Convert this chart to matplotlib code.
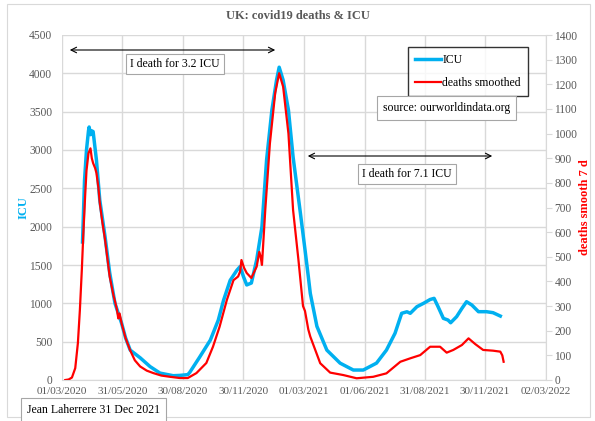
import matplotlib
matplotlib.use('Agg')
import matplotlib.pyplot as plt
import matplotlib.dates as mdates
import numpy as np
import pandas as pd
from matplotlib.patches import Rectangle

plt.rcParams['font.family'] = ['Liberation Serif', 'DejaVu Serif']

# days counted from 01/03/2020
start = pd.Timestamp('2020-03-01')

icu_day = [31, 34, 37, 40, 41, 43, 45, 47, 52, 57, 65, 72, 80, 90, 96, 103, 118, 133, 148, 168,
           178, 190, 193, 208, 224, 236, 244, 254, 264, 269, 274, 279, 286, 294, 302, 309, 317,
           324, 328, 334, 342, 349, 360, 367, 372, 375, 385, 400, 420, 440, 455, 475, 490, 503,
           513, 521, 526, 536, 546, 556, 562, 568, 576, 583, 587, 596, 604, 611, 619, 629, 641,
           651, 662]
icu = [1800, 2600, 3000, 3250, 3300, 3200, 3250, 3240, 2870, 2350, 1870, 1400, 1000, 740, 550,
       390, 290, 175, 90, 56, 60, 70, 100, 300, 520, 780, 1040, 1300, 1430, 1480, 1350, 1240,
       1265, 1565, 2000, 2870, 3520, 3910, 4080, 3910, 3520, 2910, 2180, 1700, 1350, 1130, 700,
       390, 220, 130, 130, 220, 390, 610, 870, 890, 870, 956, 1000, 1050, 1065, 956, 804, 782,
       747, 826, 934, 1021, 978, 891, 891, 878, 834]

death_day = [5, 10, 15, 20, 24, 27, 30, 32, 35, 37, 40, 43, 45, 47, 50, 52, 55, 57, 61, 65, 72,
             78, 80, 83, 85, 87, 90, 96, 103, 110, 118, 128, 138, 150, 163, 178, 190, 203, 218,
             228, 238, 249, 259, 266, 269, 271, 275, 279, 286, 294, 298, 300, 302, 307, 314, 322,
             328, 334, 342, 349, 357, 364, 367, 372, 375, 390, 405, 425, 445, 470, 490, 511, 526,
             541, 556, 571, 581, 591, 604, 614, 624, 636, 651, 662, 665, 667]
deaths = [0, 2, 10, 48, 150, 284, 450, 580, 750, 850, 920, 940, 900, 880, 860, 840, 780, 720,
          640, 570, 420, 340, 320, 285, 250, 270, 230, 170, 120, 80, 55, 38, 28, 18, 13, 8, 8,
          28, 69, 135, 216, 325, 405, 420, 440, 487, 455, 434, 414, 460, 520, 500, 467, 690, 960,
          1165, 1245, 1190, 1000, 690, 490, 300, 280, 205, 176, 68, 30, 20, 7, 13, 27, 74, 88,
          101, 135, 135, 111, 122, 142, 169, 146, 122, 119, 115, 100, 74]

tick_dates = ['2020-03-01', '2020-05-31', '2020-08-30', '2020-11-30', '2021-03-01',
              '2021-06-01', '2021-08-31', '2021-11-30', '2022-03-02']

icu_dates = start + pd.to_timedelta(icu_day, unit='D')
death_dates = start + pd.to_timedelta(death_day, unit='D')
ticks = pd.to_datetime(tick_dates)

blue = '#00B0F0'
gray = '#595959'
grid = '#D9D9D9'

fig = plt.figure(figsize=(5.95, 4.21), dpi=100)
ax = fig.add_axes([62/595, 41/421, 484/595, 345/421])
ax2 = ax.twinx()

ax.plot(icu_dates, icu, color=blue, lw=2.5, label='ICU', zorder=3)
ax2.plot(death_dates, deaths, color='red', lw=1.6, label='deaths smoothed', zorder=4)

ax.set_xlim(ticks[0], ticks[-1])
ax.set_ylim(0, 4500)
ax2.set_ylim(0, 1400)
ax.set_yticks(np.arange(0, 4501, 500))
ax2.set_yticks(np.arange(0, 1401, 100))
ax.set_xticks(ticks)
ax.xaxis.set_major_formatter(mdates.DateFormatter('%d/%m/%Y'))

ax.grid(True, color=grid, lw=1)
ax.set_axisbelow(True)
for a in (ax, ax2):
    for s in a.spines.values():
        s.set_visible(False)
    a.tick_params(labelsize=8.3, labelcolor=gray, color=grid)
ax.tick_params(axis='x', labelsize=8)
ax.spines['bottom'].set_visible(True)
ax.spines['bottom'].set_color(grid)
ax2.spines['right'].set_visible(True)
ax2.spines['right'].set_color(grid)
ax.tick_params(axis='y', length=0, pad=7)
ax.tick_params(axis='x', length=0, pad=5)
ax2.tick_params(axis='y', length=4, pad=2)

ax.set_ylabel('ICU', color=blue, fontweight='bold', fontsize=9)
ax.yaxis.set_label_coords(-0.068, 0.5)
ax2.set_ylabel('deaths smooth 7 d', color='red', fontweight='bold', fontsize=9)
ax2.yaxis.set_label_coords(1.068, 0.5)

fig.text(298/595, 1 - 16/421, 'UK: covid19 deaths & ICU', ha='center', va='center',
         fontsize=9, fontweight='bold', color=gray)

# outer chart frame and author box
fig.patches.append(Rectangle((7/595, 4/421), 583/595, 413/421, transform=fig.transFigure,
                             fill=False, ec='#D9D9D9', lw=0.8))
fig.text(27/595, 1 - 410/421, 'Jean Laherrere 31 Dec 2021', fontsize=8.5, va='center',
         bbox=dict(boxstyle='square,pad=0.5', fc='white', ec='#A6A6A6', lw=0.8))

leg = ax.legend(handles=ax.get_lines() + ax2.get_lines(), loc='upper left',
                bbox_to_anchor=(408/595, 1 - 47/421), bbox_transform=fig.transFigure,
                borderaxespad=0, fontsize=8.5, frameon=True, fancybox=False, edgecolor='black',
                handlelength=2.2, labelspacing=0.9, handletextpad=0.1, borderpad=0.6)
leg.get_frame().set_linewidth(1.0)
leg.set_zorder(10)

fig.text(383/595, 1 - 108/421, 'source: ourworldindata.org', fontsize=8.5, va='center',
         bbox=dict(boxstyle='square,pad=0.5', fc='white', ec='#A6A6A6', lw=0.8))

# arrows with ratio notes
fig.add_artist(matplotlib.patches.FancyArrowPatch((67/595, 1 - 50/421), (278/595, 1 - 50/421),
               transform=fig.transFigure, arrowstyle='<->', mutation_scale=10, lw=0.8, color='black'))
fig.text(175/595, 1 - 64/421, 'I death for 3.2 ICU', fontsize=8.5, ha='center', va='center',
         bbox=dict(boxstyle='square,pad=0.35', fc='white', ec='#A6A6A6', lw=0.8))
fig.add_artist(matplotlib.patches.FancyArrowPatch((305/595, 1 - 156/421), (495/595, 1 - 156/421),
               transform=fig.transFigure, arrowstyle='<->', mutation_scale=10, lw=0.8, color='black'))
fig.text(407/595, 1 - 174/421, 'I death for 7.1 ICU', fontsize=8.5, ha='center', va='center',
         bbox=dict(boxstyle='square,pad=0.35', fc='white', ec='#A6A6A6', lw=0.8))

fig.savefig('out.png', dpi=100)
